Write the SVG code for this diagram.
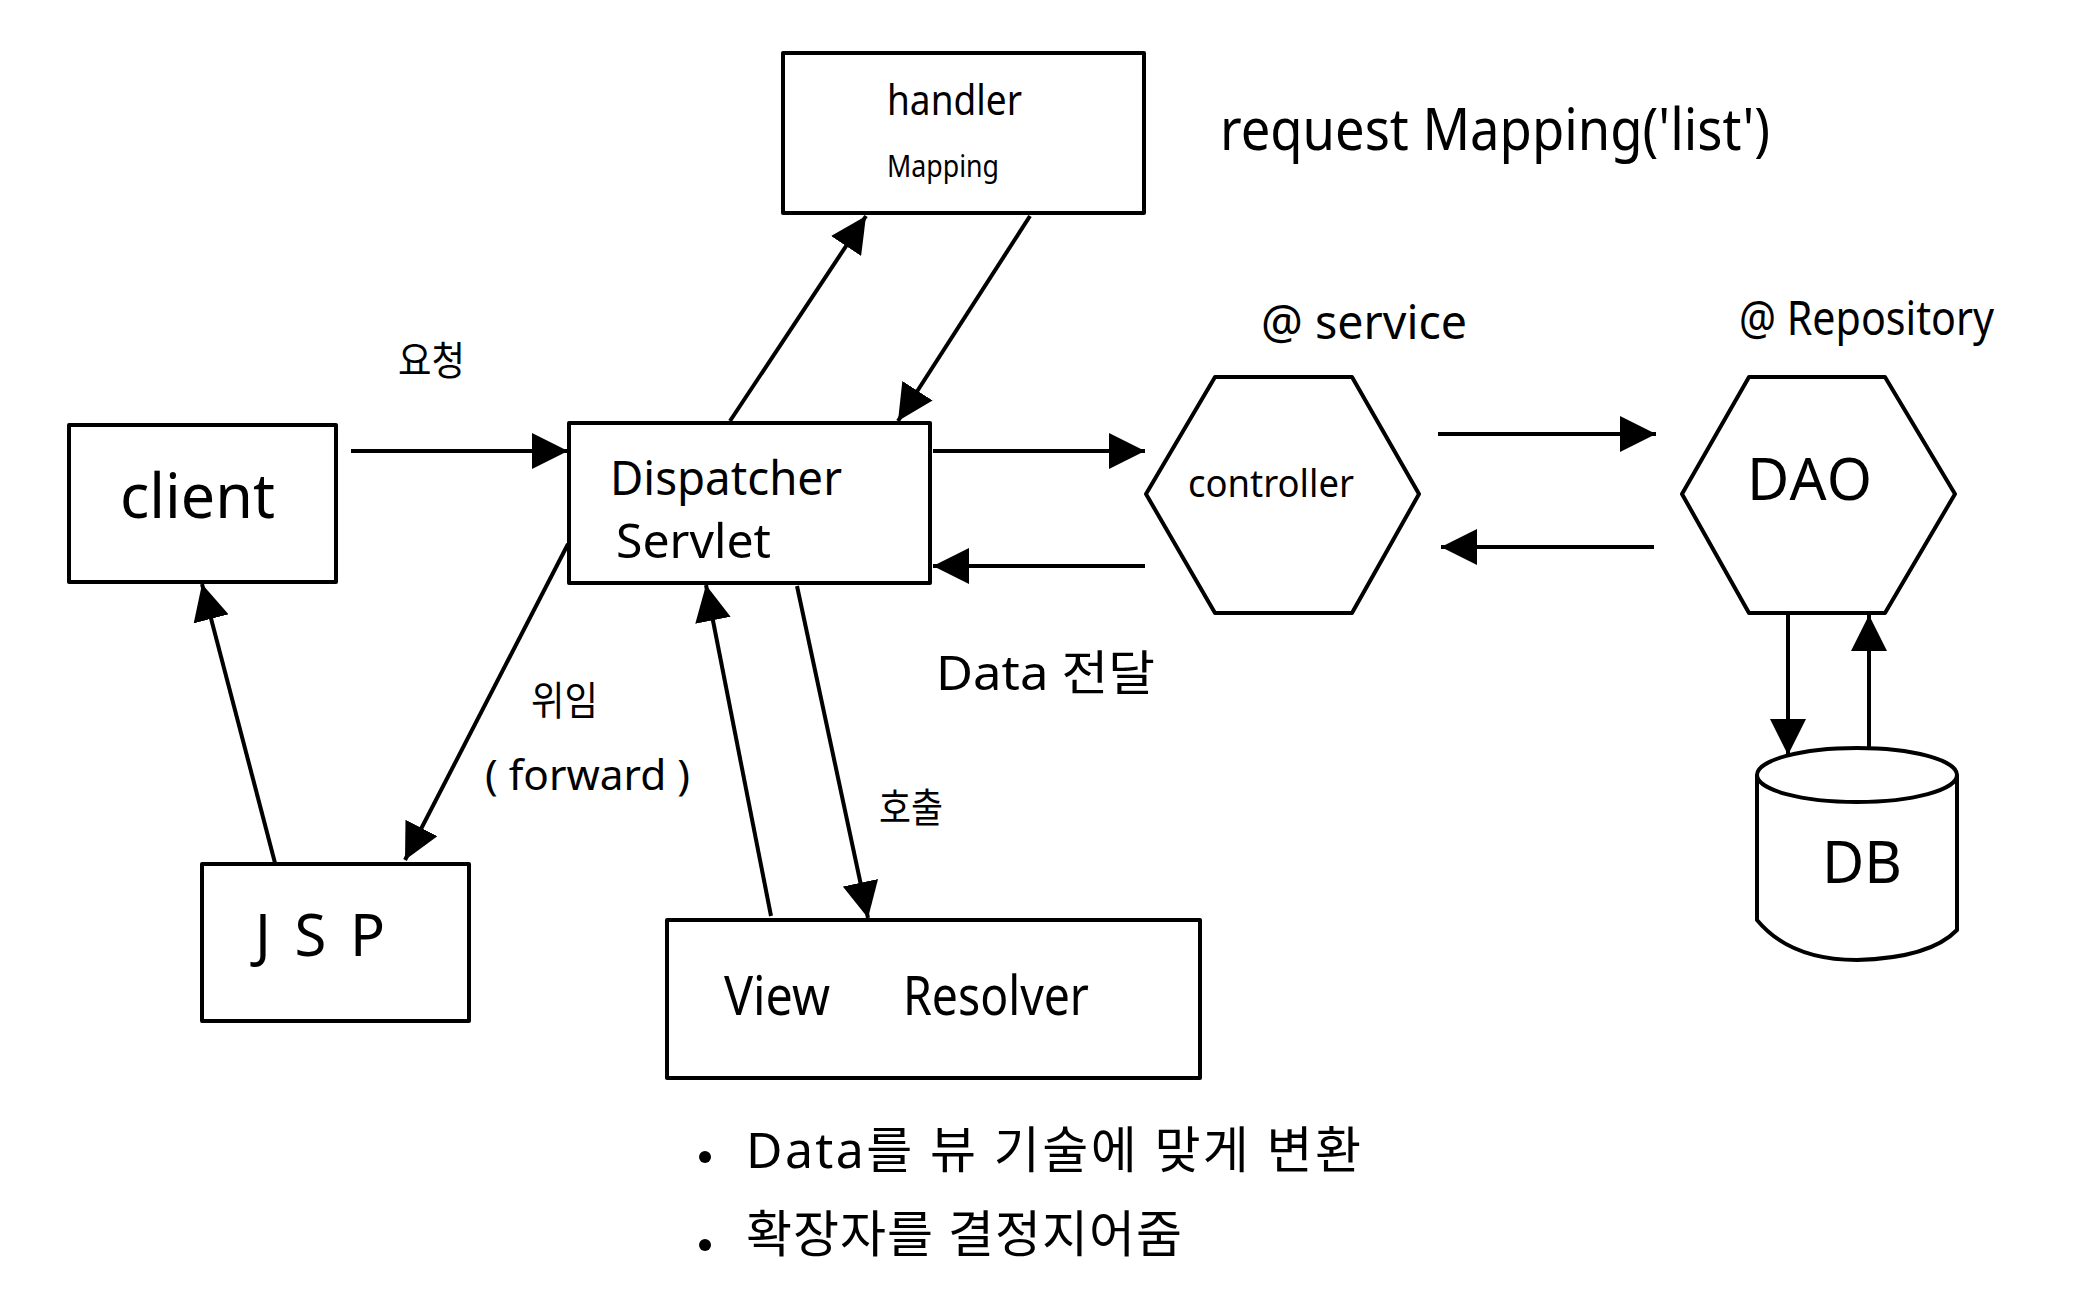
<svg xmlns="http://www.w3.org/2000/svg" width="2082" height="1307" viewBox="0 0 2082 1307">
<style>
.shape{fill:#fff;stroke:#000;stroke-width:4;stroke-linejoin:round}
.conn line{stroke:#000;stroke-width:4;fill:none}
text{font-family:"Noto Sans","Noto Sans CJK KR",sans-serif;fill:#000}
</style>
<defs>
<marker id="ah" viewBox="0 0 10 10" refX="10" refY="5" markerWidth="9" markerHeight="9" markerUnits="strokeWidth" orient="auto">
<path d="M0,0 L10,5 L0,10 z" fill="#000"/>
</marker>
</defs>
<rect width="2082" height="1307" fill="#fff"/>

<g id="handler-mapping">
<rect class="shape" x="783" y="53" width="361" height="160"/>
<text x="887" y="115" font-size="42" textLength="135" lengthAdjust="spacingAndGlyphs">handler</text>
<text x="887" y="177" font-size="30" textLength="112" lengthAdjust="spacingAndGlyphs">Mapping</text>
</g>

<g id="client">
<rect class="shape" x="69" y="425" width="267" height="157"/>
<text x="120" y="518" font-size="62" textLength="155" lengthAdjust="spacingAndGlyphs">client</text>
</g>

<g id="dispatcher-servlet">
<rect class="shape" x="569" y="423" width="361" height="160"/>
<text x="610" y="495" font-size="48" textLength="232" lengthAdjust="spacingAndGlyphs">Dispatcher</text>
<text x="616" y="558" font-size="48" textLength="155" lengthAdjust="spacingAndGlyphs">Servlet</text>
</g>

<g id="jsp">
<rect class="shape" x="202" y="864" width="267" height="157"/>
<text x="255" y="956" font-size="58" textLength="130" lengthAdjust="spacing">JSP</text>
</g>

<g id="view-resolver">
<rect class="shape" x="667" y="920" width="533" height="158"/>
<text x="724" y="1015" font-size="54" textLength="106" lengthAdjust="spacingAndGlyphs">View</text>
<text x="903" y="1015" font-size="54" textLength="186" lengthAdjust="spacingAndGlyphs">Resolver</text>
</g>

<g id="controller">
<polygon class="shape" points="1146,494 1215,377 1352,377 1419,494 1352,613 1215,613"/>
<text x="1188" y="497" font-size="38" textLength="166" lengthAdjust="spacingAndGlyphs">controller</text>
</g>

<g id="dao">
<polygon class="shape" points="1682,494 1749,377 1885,377 1955,494 1885,613 1749,613"/>
<text x="1747" y="500" font-size="58" textLength="125" lengthAdjust="spacing">DAO</text>
</g>

<g id="db">
<path class="shape" d="M1757,775 L1757,920 Q1790,960 1857,960 Q1930,958 1957,930 L1957,775"/>
<ellipse class="shape" cx="1857" cy="775" rx="100" ry="27"/>
<text x="1822" y="883" font-size="58" textLength="80" lengthAdjust="spacing">DB</text>
</g>

<g id="labels">
<text x="1220" y="150" font-size="58" textLength="550" lengthAdjust="spacingAndGlyphs">request Mapping('list')</text>
<text x="1261" y="339" font-size="48" textLength="206" lengthAdjust="spacingAndGlyphs">@ service</text>
<text x="1739" y="335" font-size="48" textLength="255" lengthAdjust="spacingAndGlyphs">@ Repository</text>
<text x="398" y="375" font-size="40" textLength="67" lengthAdjust="spacingAndGlyphs">요청</text>
<text x="531" y="715" font-size="40" textLength="67" lengthAdjust="spacingAndGlyphs">위임</text>
<text x="485" y="790" font-size="42" textLength="205" lengthAdjust="spacingAndGlyphs">( forward )</text>
<text x="879" y="822" font-size="40" textLength="64" lengthAdjust="spacingAndGlyphs">호출</text>
<text x="936" y="690" font-size="48" textLength="219" lengthAdjust="spacingAndGlyphs">Data 전달</text>
<circle cx="705" cy="1157" r="6" fill="#000"/>
<text x="746" y="1168" font-size="50" textLength="615" lengthAdjust="spacing">Data를 뷰 기술에 맞게 변환</text>
<circle cx="705" cy="1245" r="6" fill="#000"/>
<text x="746" y="1252" font-size="50" textLength="436" lengthAdjust="spacing">확장자를 결정지어줌</text>
</g>

<g class="conn" id="connectors">
<line x1="351" y1="451" x2="568" y2="451" marker-end="url(#ah)"/>
<line x1="730" y1="421" x2="866" y2="216" marker-end="url(#ah)"/>
<line x1="1030" y1="216" x2="898" y2="421" marker-end="url(#ah)"/>
<line x1="933" y1="451" x2="1145" y2="451" marker-end="url(#ah)"/>
<line x1="1145" y1="566" x2="933" y2="566" marker-end="url(#ah)"/>
<line x1="1438" y1="434" x2="1656" y2="434" marker-end="url(#ah)"/>
<line x1="1654" y1="547" x2="1441" y2="547" marker-end="url(#ah)"/>
<line x1="1788" y1="615" x2="1788" y2="755" marker-end="url(#ah)"/>
<line x1="1869" y1="747" x2="1869" y2="615" marker-end="url(#ah)"/>
<line x1="568" y1="544" x2="405" y2="860" marker-end="url(#ah)"/>
<line x1="275" y1="863" x2="202" y2="584" marker-end="url(#ah)"/>
<line x1="771" y1="916" x2="706" y2="585" marker-end="url(#ah)"/>
<line x1="797" y1="586" x2="868" y2="918" marker-end="url(#ah)"/>
</g>
</svg>
